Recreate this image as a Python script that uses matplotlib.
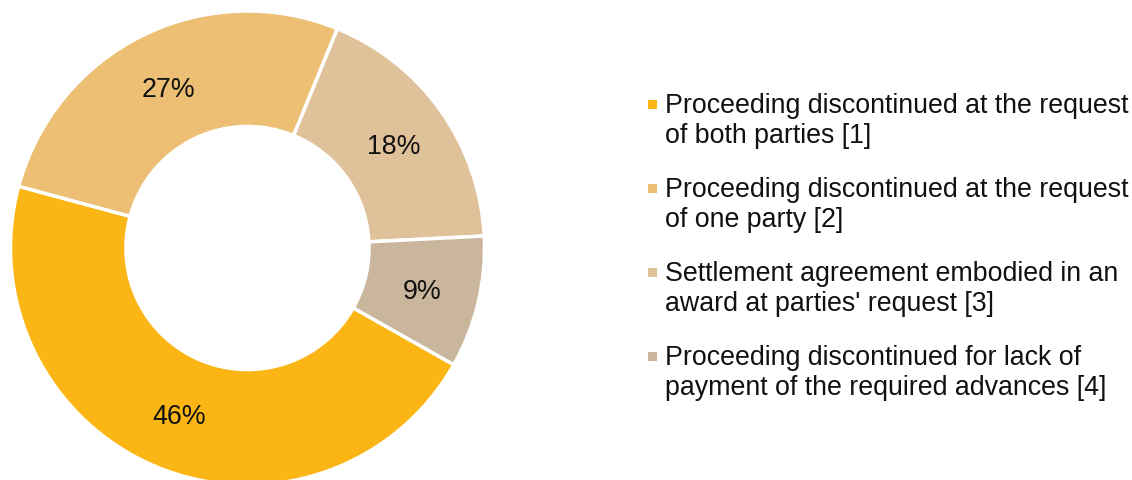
import matplotlib.pyplot as plt
from matplotlib.patches import Rectangle

plt.rcParams['font.family'] = ['Liberation Sans', 'DejaVu Sans']

# data
categories = [
    ['Proceeding discontinued at the request', 'of both parties [1]'],
    ['Proceeding discontinued at the request', 'of one party [2]'],
    ['Settlement agreement embodied in an', "award at parties' request [3]"],
    ['Proceeding discontinued for lack of', 'payment of the required advances [4]'],
]
shares = [46, 27, 18, 9]
colors = ['#FBB615', '#ECBF74', '#E0C29A', '#CAB69D']

W, H = 1132, 480
fig = plt.figure(figsize=(W / 100, H / 100), dpi=100)

# donut: centre (247.5, 248) px, outer radius 237 px
cx, cy, r = 247.5, 248, 237
ax = fig.add_axes([(cx - r) / W, (H - cy - r) / H, 2 * r / W, 2 * r / H])
wedges, texts, autotexts = ax.pie(
    shares, colors=colors, counterclock=False, startangle=-29.5,
    radius=1, autopct='%.0f%%', pctdistance=0.756,
    wedgeprops=dict(width=0.487, edgecolor='white', linewidth=2.5),
    textprops=dict(fontsize=19.3, color='#111111'))
for t in autotexts:
    t.set_va('center_baseline')
ax.set_xlim(-1, 1)
ax.set_ylim(-1, 1)
ax.set_aspect('equal')
ax.axis('off')

# legend drawn by hand so the marker sits on the first line
for i, (lines, c) in enumerate(zip(categories, colors)):
    base = 113 + 84 * i
    fig.patches.append(Rectangle((648 / W, 1 - (base - 4) / H), 9 / W, 9 / H,
                                 transform=fig.transFigure, facecolor=c,
                                 edgecolor='none'))
    for j, line in enumerate(lines):
        fig.text(665 / W, 1 - (base + 30 * j) / H, line, fontsize=19.3,
                 va='baseline', ha='left', color='#111111')

fig.savefig('out.png', dpi=100)
